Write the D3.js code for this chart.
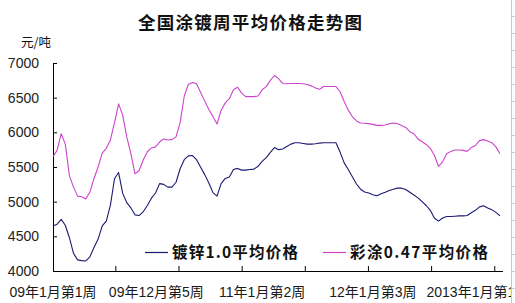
<!DOCTYPE html>
<html><head><meta charset="utf-8">
<script src="https://cdn.jsdelivr.net/npm/d3@7"></script>
<style>
html,body{margin:0;padding:0;background:#fff;}
svg{display:block;}
</style></head>
<body>
<svg id="c" width="515" height="303"></svg>
<script>
const title = "全国涂镀周平均价格走势图";
const unit = "元/吨";
const seriesNames = ["镀锌1.0平均价格", "彩涂0.47平均价格"];
const yTicks = [4000, 4500, 5000, 5500, 6000, 6500, 7000];
const xLabels = ["09年1月第1周", "09年12月第5周", "11年1月第2周", "12年1月第3周", "2013年1月第1周"];
const xLabelPos = [0, 25.2, 51, 78, 103.6];
const xTickPos = [15.2, 30.6, 46.0, 61.4, 76.8, 92.2, 107.6];

const galv = [4650,4675,4745,4660,4480,4255,4160,4150,4145,4205,
4340,4460,4650,4720,4950,5330,5420,5120,4985,4910,
4810,4800,4855,4945,5050,5125,5260,5250,5210,5210,
5280,5475,5605,5660,5665,5605,5495,5390,5270,5130,
5080,5260,5335,5355,5465,5480,5455,5455,5465,5470,
5510,5580,5635,5710,5780,5750,5760,5795,5830,5850,
5850,5840,5830,5830,5835,5845,5850,5850,5850,5850,
5715,5560,5465,5360,5255,5180,5140,5125,5100,5085,
5115,5135,5160,5180,5195,5195,5175,5135,5095,5055,
5000,4945,4875,4765,4720,4765,4785,4785,4790,4795,
4795,4800,4840,4875,4925,4940,4910,4885,4845,4795];

const coated = [5650,5740,5980,5830,5375,5210,5080,5070,5040,5140,
5335,5500,5700,5770,5890,6140,6410,6245,5930,5690,
5400,5450,5600,5720,5775,5790,5860,5905,5890,5895,
5935,6140,6520,6690,6720,6700,6575,6450,6330,6230,
6120,6320,6425,6485,6615,6650,6565,6515,6515,6515,
6525,6615,6660,6750,6820,6775,6705,6700,6705,6705,
6705,6700,6690,6670,6640,6620,6660,6660,6660,6660,
6585,6445,6320,6225,6165,6135,6130,6125,6115,6100,
6100,6105,6125,6135,6125,6100,6070,6010,5980,5905,
5865,5825,5770,5670,5510,5575,5690,5725,5745,5745,
5740,5725,5780,5810,5880,5895,5875,5850,5790,5690];

const colors = ["#1c1a70", "#cc44cc"];
const svg = d3.select("#c");
const L = 53, R = 500, T = 63, B = 271;
const x = d3.scaleLinear().domain([0, galv.length - 1]).range([L, R]);
const y = d3.scaleLinear().domain([4000, 7000]).range([B, T]);

svg.append("rect").attr("width",515).attr("height",303).attr("fill","#fff");

// right-edge artefact (neighbouring frame)
const edge = svg.append("g").attr("stroke","#c8c8c8").attr("stroke-width",1);
edge.append("line").attr("x1",511.5).attr("x2",511.5).attr("y1",0).attr("y2",303);
d3.range(16, 300, 17).forEach(v => edge.append("line").attr("x1",511).attr("x2",515).attr("y1",v+0.5).attr("y2",v+0.5));

svg.append("text").attr("x",250).attr("y",29).attr("text-anchor","middle")
  .attr("font-family","'Noto Sans CJK SC', sans-serif").attr("font-weight","bold")
  .attr("font-size",17.5).attr("textLength",224).attr("lengthAdjust","spacing")
  .attr("fill","#111").text(title);
svg.append("text").attr("x",21).attr("y",47)
  .attr("font-family","'Noto Sans CJK SC', sans-serif").attr("font-size",12.5).attr("fill","#111").text(unit);

// y axis
const yAxis = d3.axisRight(y).tickValues(yTicks).tickSize(4).tickFormat("");
const gy = svg.append("g").attr("transform",`translate(${L},0)`).call(yAxis);
gy.select(".domain").remove();
gy.selectAll("line").attr("stroke","#000");
svg.append("line").attr("x1",L+0.5).attr("x2",L+0.5).attr("y1",T).attr("y2",B).attr("stroke","#000");
svg.append("g").selectAll("text").data(yTicks).join("text")
  .attr("x",39).attr("y",d=>y(d)).attr("dy","0.36em").attr("text-anchor","end")
  .attr("font-family","'Liberation Sans', Arial, sans-serif").attr("font-size",14).attr("fill","#222")
  .text(d=>d);

// x axis
const xAxis = d3.axisTop(x).tickValues(xTickPos).tickSize(5).tickFormat("");
const gx = svg.append("g").attr("transform",`translate(0,${B})`).call(xAxis);
gx.select(".domain").remove();
gx.selectAll("line").attr("stroke","#000");
svg.append("line").attr("x1",L).attr("x2",503).attr("y1",B+0.5).attr("y2",B+0.5).attr("stroke","#000");

svg.append("clipPath").attr("id","lc").append("rect").attr("x",0).attr("y",270).attr("width",511).attr("height",33);
svg.append("g").attr("clip-path","url(#lc)").selectAll("text").data(xLabels).join("text")
  .attr("x",(d,i)=>x(xLabelPos[i])).attr("y",297).attr("text-anchor","middle")
  .attr("font-family","'Liberation Sans', Arial, 'Noto Sans CJK SC', sans-serif").attr("font-size",14).attr("fill","#1a1a1a")
  .text(d=>d);

// lines
const line = d3.line().x((d,i)=>x(i)).y(d=>y(d)).curve(d3.curveLinear);
[galv, coated].forEach((s,k)=>{
  svg.append("path").datum(s).attr("d",line).attr("fill","none")
    .attr("stroke",colors[k]).attr("stroke-width",1.1).attr("stroke-linejoin","round");
});

// legend
const legX = [145, 323];
const legW = [126, 138];
seriesNames.forEach((n,k)=>{
  svg.append("line").attr("x1",legX[k]).attr("x2",legX[k]+23).attr("y1",252.5).attr("y2",252.5)
    .attr("stroke",colors[k]).attr("stroke-width",1.2);
  svg.append("text").attr("x",legX[k]+27).attr("y",258)
    .attr("font-family","'Noto Sans CJK SC', sans-serif").attr("font-weight","bold")
    .attr("font-size",15.5).attr("textLength",legW[k]).attr("lengthAdjust","spacing")
    .attr("fill","#111").text(n);
});
</script>
</body></html>
